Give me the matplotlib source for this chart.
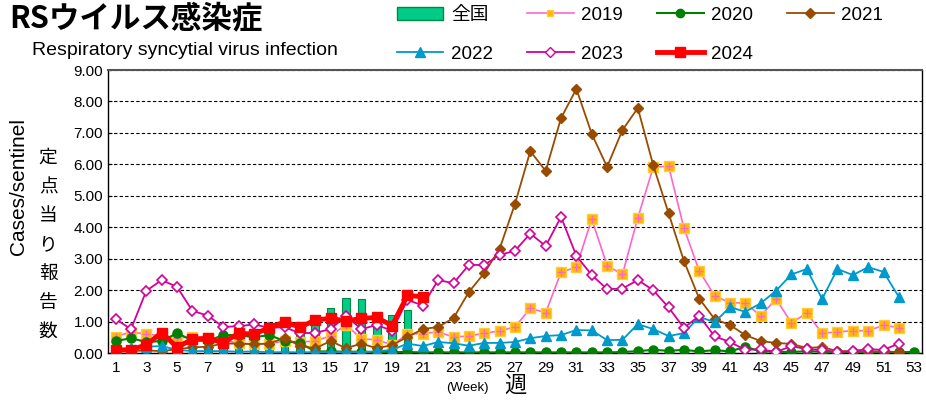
import numpy as np
import matplotlib.pyplot as plt
from matplotlib.patches import Patch
from matplotlib.lines import Line2D

plt.rcParams['font.family'] = ['Liberation Sans', 'Noto Sans CJK JP', 'DejaVu Sans']

# national bars (2024)
nat_weeks = list(range(1, 21))
nat = [0.15, 0.12, 0.12, 0.12, 0.12, 0.15, 0.15, 0.2, 0.25, 0.3,
       0.4, 0.55, 0.75, 0.98, 1.42, 1.75, 1.72, 1.15, 1.2, 1.38]

y2019 = [0.52, 0.67, 0.6, 0.55, 0.47, 0.52, 0.47, 0.4, 0.32, 0.28,
         0.3, 0.38, 0.35, 0.38, 0.55, 0.9, 0.45, 0.42, 0.26, 0.6,
         0.62, 0.67, 0.51, 0.54, 0.63, 0.7, 0.83, 1.42, 1.28, 2.57,
         2.73, 4.26, 2.78, 2.5, 4.3, 5.9, 5.95, 3.98, 2.61, 1.82,
         1.6, 1.59, 1.18, 1.72, 0.96, 1.27, 0.63, 0.67, 0.71, 0.71,
         0.88, 0.81]
y2020 = [0.38, 0.47, 0.35, 0.38, 0.63, 0.4, 0.38, 0.57, 0.57, 0.5,
         0.57, 0.38, 0.32, 0.05, 0.05, 0.04, 0.04, 0.03, 0.03, 0.03,
         0.02, 0.02, 0.02, 0.02, 0.02, 0.02, 0.02, 0.02, 0.02, 0.02,
         0.02, 0.02, 0.02, 0.03, 0.06, 0.1, 0.07, 0.1, 0.05, 0.09,
         0.05, 0.2, 0.05, 0.04, 0.03, 0.06, 0.04, 0.03, 0.03, 0.03,
         0.03, 0.03, 0.03]
y2021 = [0.05, 0.06, 0.08, 0.06, 0.12, 0.18, 0.2, 0.3, 0.3, 0.28,
         0.3, 0.48, 0.23, 0.15, 0.38, 0.15, 0.3, 0.15, 0.25, 0.51,
         0.76, 0.83, 1.11, 1.94, 2.54, 3.31, 4.74, 6.42, 5.79, 7.47,
         8.4, 6.97, 5.92, 7.09, 7.79, 5.98, 4.45, 2.93, 1.73, 1.08,
         0.89, 0.57, 0.38, 0.32, 0.29, 0.16, 0.19, 0.06, 0.05, 0.05,
         0.05, 0.03]
y2022 = [0.05, 0.15, 0.2, 0.22, 0.1, 0.06, 0.06, 0.06, 0.04, 0.05,
         0.02, 0.03, 0.02, 0.03, 0.03, 0.03, 0.03, 0.05, 0.1, 0.3,
         0.22, 0.35, 0.31, 0.23, 0.32, 0.32, 0.35, 0.47, 0.54, 0.57,
         0.73, 0.72, 0.41, 0.42, 0.92, 0.76, 0.54, 0.63, 1.15, 0.98,
         1.46, 1.31, 1.58, 1.98, 2.5, 2.67, 1.72, 2.67, 2.48, 2.73,
         2.58, 1.78]
y2023 = [1.08, 0.76, 1.98, 2.32, 2.1, 1.34, 1.19, 0.83, 0.85, 0.91,
         0.8, 0.82, 0.63, 0.64, 0.76, 1.18, 0.76, 0.89, 0.71, 1.69,
         1.51, 2.32, 2.22, 2.8, 2.8, 3.12, 3.25, 3.8, 3.4, 4.33,
         3.09, 2.48, 2.03, 2.05, 2.32, 2.0, 1.45, 0.8, 1.18, 0.53,
         0.35, 0.1, 0.12, 0.03, 0.22, 0.12, 0.1, 0.03, 0.07, 0.12,
         0.1, 0.3]
y2024 = [0.1, 0.1, 0.26, 0.65, 0.18, 0.44, 0.47, 0.32, 0.63, 0.6,
         0.8, 0.99, 0.82, 1.05, 1.1, 1.02, 1.1, 1.13, 0.87, 1.83,
         1.79]

fig = plt.figure(figsize=(9.26, 4.01), dpi=100)
ax = fig.add_axes([0.1166, 0.1197, 0.879, 0.7057])

ax.bar(nat_weeks, nat, width=0.5, color='#00CC88', edgecolor='#008844',
       linewidth=0.8, zorder=2)

def wk(v):
    return np.arange(1, len(v) + 1)

ax.plot(wk(y2019), y2019, color='#FF66CC', lw=1.2, marker='s', ms=6.5,
        mfc='#FFB800', mec='#FFCC33', zorder=3)
ax.plot(wk(y2019), y2019, ls='none', marker='+', ms=6, mew=1,
        color='#FF66CC', zorder=3)
ax.plot(wk(y2020), y2020, color='#008000', lw=1.5, marker='o', ms=6.5,
        mfc='#008000', mec='#008000', zorder=4)
ax.plot(wk(y2021), y2021, color='#994C00', lw=1.3, marker='D', ms=5.5,
        mfc='#994C00', mec='#994C00', zorder=4)
ax.plot(wk(y2022), y2022, color='#0099CC', lw=1.3, marker='^', ms=7,
        mfc='#0099CC', mec='#0099CC', zorder=4)
ax.plot(wk(y2023), y2023, color='#D4009A', lw=1.3, marker='D', ms=5.5,
        mfc='white', mec='#D4009A', mew=1.2, zorder=5)
ax.plot(wk(y2024), y2024, color='#FF0000', lw=3.5, marker='s', ms=7.5,
        mfc='#FF0000', mec='#FF0000', zorder=6)

ax.set_xlim(0.5, 53.5)
ax.set_ylim(0, 9)
ax.set_xticks(range(1, 54, 2))
ax.set_yticks(np.arange(0, 9.01, 1))
ax.set_yticklabels([f'{v:.2f}' for v in np.arange(0, 9.01, 1)])
ax.tick_params(axis='both', labelsize=11, direction='in', length=3)
ax.tick_params(axis='x', length=0, pad=6)
ax.yaxis.grid(True, ls=(0, (3, 2)), color='black', lw=0.8)
ax.set_axisbelow(True)
ax.spines['top'].set_linestyle((0, (2, 1)))
ax.spines['top'].set_color('#555555')
ax.spines['top'].set_linewidth(1.5)
for s in ['left', 'right', 'bottom']:
    ax.spines[s].set_linewidth(1)

fig.text(0.010, 0.955, 'RSウイルス感染症', fontsize=22, fontweight='bold',
         va='center', ha='left', family=['Noto Sans CJK JP'])
fig.text(0.035, 0.873, 'Respiratory syncytial virus infection', fontsize=14,
         va='center', ha='left')
fig.text(0.020, 0.536, 'Cases/sentinel', fontsize=15, rotation=90,
         va='center', ha='center')
fig.text(0.052, 0.39, '定\n点\n当\nり\n報\n告\n数', fontsize=13.5,
         va='center', ha='center', linespacing=1.5,
         family=['Noto Sans CJK JP'])
fig.text(0.505, 0.033, '(Week)', fontsize=9.5, va='center', ha='center')
fig.text(0.557, 0.04, '週', fontsize=16, va='center', ha='center',
         family=['Noto Sans CJK JP'])

handles = [
    Patch(facecolor='#00CC88', edgecolor='#008844'),
    Line2D([], [], color='#0099CC', lw=1.3, marker='^', ms=7),
    Line2D([], [], color='#FF66CC', lw=1.2, marker='s', ms=5,
           mfc='#FFB800', mec='#FFCC33'),
    Line2D([], [], color='#D4009A', lw=1.3, marker='D', ms=5,
           mfc='white', mec='#D4009A'),
    Line2D([], [], color='#008000', lw=1.5, marker='o', ms=6),
    Line2D([], [], color='#FF0000', lw=3.5, marker='s', ms=7),
    Line2D([], [], color='#994C00', lw=1.3, marker='D', ms=5),
]
labels = ['全国', '2022', '2019', '2023', '2020', '2024', '2021']
fig.legend(handles, labels, ncol=4, loc='upper left',
           bbox_to_anchor=(0.410, 1.025), frameon=False,
           handlelength=2.5, handletextpad=0.4, columnspacing=1.8,
           labelspacing=1.15,
           prop={'family': ['Liberation Sans', 'Noto Sans CJK JP'], 'size': 13.5})

fig.savefig('out.png', dpi=100)
